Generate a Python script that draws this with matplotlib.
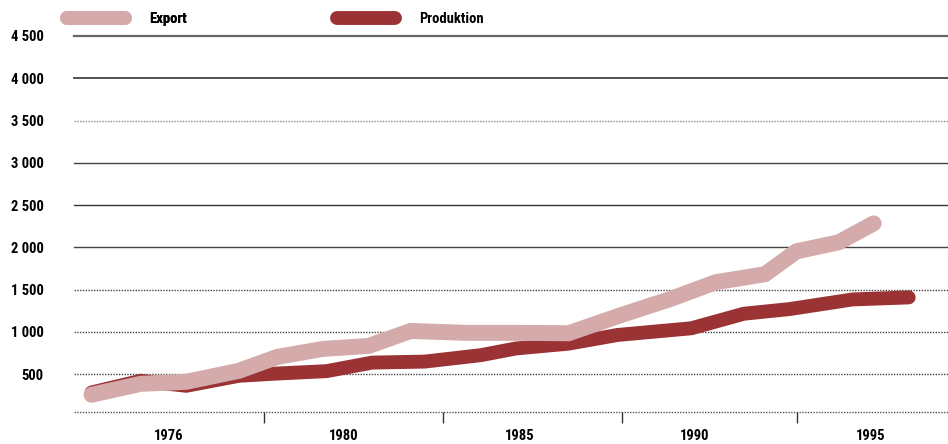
import matplotlib
matplotlib.use("Agg")
import matplotlib.pyplot as plt
from matplotlib import font_manager
from matplotlib.lines import Line2D

# ---------------- data ----------------
export_years = [1972.8, 1974.2, 1975.5, 1977.0, 1978.1, 1979.4, 1980.7, 1981.9, 1983.5,
                1985.0, 1986.4, 1987.9, 1989.3, 1990.6, 1992.0, 1992.9, 1994.1, 1995.1]
export_values = [258, 387, 411, 541, 706, 800, 835, 1012, 990,
                 990, 985, 1200, 1389, 1589, 1683, 1954, 2060, 2284]

prod_years = [1972.8, 1974.2, 1975.5, 1977.0, 1978.1, 1979.5, 1980.8, 1982.3, 1983.9,
              1984.9, 1986.4, 1987.8, 1989.9, 1991.4, 1992.7, 1994.5, 1996.1]
prod_values = [285, 423, 364, 482, 509, 537, 638, 650, 726,
               805, 862, 965, 1044, 1216, 1271, 1385, 1409]

ytick_values = [500, 1000, 1500, 2000, 2500, 3000, 3500, 4000, 4500]
ytick_labels = ["500", "1 000", "1 500", "2 000", "2 500", "3 000", "3 500", "4 000", "4 500"]
xlabel_pos = [1975, 1980, 1985, 1990, 1995]
xlabel_text = ["1976", "1980", "1985", "1990", "1995"]
xtick_marks = [1977.72, 1982.82, 1987.93, 1992.92]
series_names = ["Export", "Produktion"]

# ---------------- style ----------------
def pick_font(cands):
    for c in cands:
        try:
            font_manager.findfont(font_manager.FontProperties(family=c), fallback_to_default=False)
            return c
        except Exception:
            continue
    return "DejaVu Sans"

FONT = pick_font(["Liberation Sans Narrow", "Roboto Condensed", "DejaVu Sans"])
plt.rcParams['font.family'] = [FONT, 'DejaVu Sans']
plt.rcParams['font.weight'] = 'bold'

c_export = "#D5AAAA"
c_prod = "#9B3335"
W, H = 948, 444
fig = plt.figure(figsize=(W / 100, H / 100), dpi=100)
ax = fig.add_axes([74 / W, 1 - 412 / H, 1 - 74 / W, (412 - 36) / H])

ax.set_xlim(1972.30, 1997.22)
ax.set_ylim(54, 4500)

# grid lines
grid_styles = {
    4500: dict(color="#666666", lw=1.6, ls="-"),
    4000: dict(color="#444444", lw=1.3, ls="-"),
    3500: dict(color="#888888", lw=1.0, ls=(0, (1, 1))),
    3000: dict(color="#444444", lw=1.0, ls="-"),
    2500: dict(color="#333333", lw=1.0, ls="-"),
    2000: dict(color="#444444", lw=1.0, ls="-"),
    1500: dict(color="#444444", lw=1.0, ls=(0, (1, 1))),
    1000: dict(color="#444444", lw=1.0, ls=(0, (1, 1))),
    500: dict(color="#444444", lw=1.0, ls=(0, (1, 1))),
}
for v in ytick_values:
    ax.axhline(v, zorder=1, clip_on=False, **grid_styles[v])
ax.axhline(54, color="#555555", lw=1.0, ls=(0, (1, 1)), zorder=1, clip_on=False)

for s in ax.spines.values():
    s.set_visible(False)

ax.plot(prod_years, prod_values, color=c_prod, lw=10, solid_capstyle="round",
        solid_joinstyle="miter", zorder=3, clip_on=False)
ax.plot(export_years, export_values, color=c_export, lw=11.5, solid_capstyle="round",
        solid_joinstyle="miter", zorder=4, clip_on=False)

ax.set_yticks(ytick_values)
ax.set_yticklabels(ytick_labels)
ax.tick_params(axis="y", length=0, pad=22, labelsize=10.5)

ax.set_xticks(xlabel_pos)
ax.set_xticklabels(xlabel_text)
ax.tick_params(axis="x", which="major", length=0, pad=12, labelsize=10.5)
ax.set_xticks(xtick_marks, minor=True)
ax.tick_params(axis="x", which="minor", length=8, width=1, color="#333333", direction="out")

# legends
h1 = Line2D([], [], color=c_export, lw=10, solid_capstyle="round")
h2 = Line2D([], [], color=c_prod, lw=10, solid_capstyle="round")
leg1 = fig.legend([h1], [series_names[0]], loc="center left",
                  bbox_to_anchor=(67 / W, 1 - 19 / H), frameon=False, borderpad=0,
                  handlelength=4.0, handletextpad=1.65, fontsize=10.5, borderaxespad=0)
leg2 = fig.legend([h2], [series_names[1]], loc="center left",
                  bbox_to_anchor=(337 / W, 1 - 19 / H), frameon=False, borderpad=0,
                  handlelength=4.0, handletextpad=1.65, fontsize=10.5, borderaxespad=0)
fig.add_artist(leg1)

fig.savefig("out.png", dpi=100)
